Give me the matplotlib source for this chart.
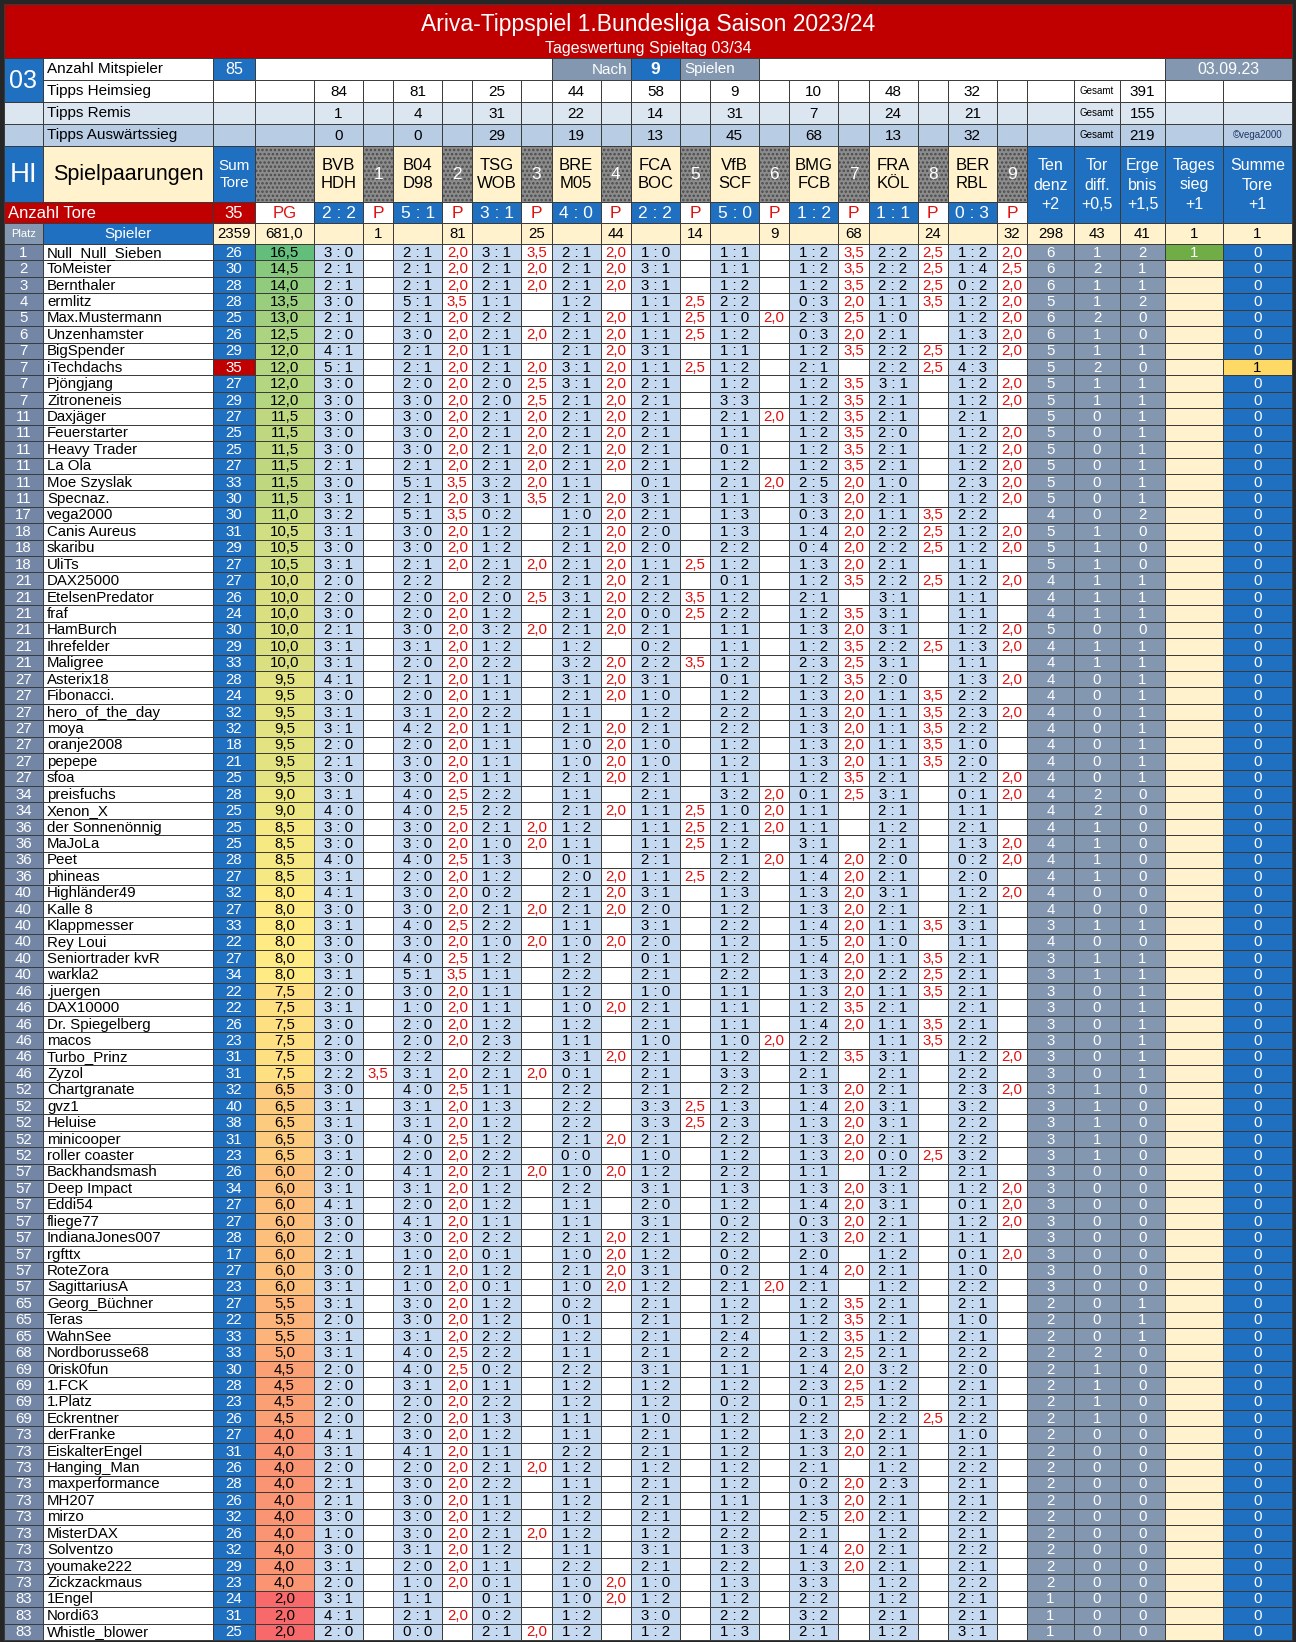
import numpy as np
import matplotlib.pyplot as plt
from matplotlib.patches import Rectangle
from matplotlib.colors import LinearSegmentedColormap, TwoSlopeNorm

plt.rcParams['font.family'] = ['Liberation Sans', 'DejaVu Sans']
plt.rcParams['hatch.linewidth'] = 1.2

# ---- data -------------------------------------------------------------
teams = [("BVB", "HDH"), ("B04", "D98"), ("TSG", "WOB"), ("BRE", "M05"), ("FCA", "BOC"),
         ("VfB", "SCF"), ("BMG", "FCB"), ("FRA", "KÖL"), ("BER", "RBL")]
results = ["2:2", "5:1", "3:1", "4:0", "2:2", "5:0", "1:2", "1:1", "0:3"]
tipps_heim = [84, 81, 25, 44, 58, 9, 10, 48, 32]
tipps_remis = [1, 4, 31, 22, 14, 31, 7, 24, 21]
tipps_ausw = [0, 0, 29, 19, 13, 45, 68, 13, 32]
gesamt = [391, 155, 219]
treffer = [1, 81, 25, 44, 14, 9, 68, 24, 32]
summen = ["2359", "681,0", "298", "43", "41", "1", "1"]

platz = [1, 2, 3, 4, 5, 6, 7, 7, 7, 7, 11, 11, 11, 11, 11, 11, 17, 18, 18, 18,
         21, 21, 21, 21, 21, 21, 27, 27, 27, 27, 27, 27, 27, 34, 34, 36, 36, 36, 36,
         40, 40, 40, 40, 40, 40, 46, 46, 46, 46, 46, 46, 52, 52, 52, 52, 52,
         57, 57, 57, 57, 57, 57, 57, 57, 65, 65, 65, 68, 69, 69, 69, 69,
         73, 73, 73, 73, 73, 73, 73, 73, 73, 73, 83, 83, 83]
spieler = ["Null_Null_Sieben", "ToMeister", "Bernthaler", "ermlitz", "Max.Mustermann",
           "Unzenhamster", "BigSpender", "iTechdachs", "Pjöngjang", "Zitroneneis",
           "Daxjäger", "Feuerstarter", "Heavy Trader", "La Ola", "Moe Szyslak", "Specnaz.",
           "vega2000", "Canis Aureus", "skaribu", "UliTs", "DAX25000", "EtelsenPredator",
           "fraf", "HamBurch", "Ihrefelder", "Maligree", "Asterix18", "Fibonacci.",
           "hero_of_the_day", "moya", "oranje2008", "pepepe", "sfoa", "preisfuchs",
           "Xenon_X", "der Sonnenönnig", "MaJoLa", "Peet", "phineas", "Highländer49",
           "Kalle 8", "Klappmesser", "Rey Loui", "Seniortrader kvR", "warkla2", ".juergen",
           "DAX10000", "Dr. Spiegelberg", "macos", "Turbo_Prinz", "Zyzol", "Chartgranate",
           "gvz1", "Heluise", "minicooper", "roller coaster", "Backhandsmash", "Deep Impact",
           "Eddi54", "fliege77", "IndianaJones007", "rgfttx", "RoteZora", "SagittariusA",
           "Georg_Büchner", "Teras", "WahnSee", "Nordborusse68", "0risk0fun", "1.FCK",
           "1.Platz", "Eckrentner", "derFranke", "EiskalterEngel", "Hanging_Man",
           "maxperformance", "MH207", "mirzo", "MisterDAX", "Solventzo", "youmake222",
           "Zickzackmaus", "1Engel", "Nordi63", "Whistle_blower"]
tore = [26, 30, 28, 28, 25, 26, 29, 35, 27, 29, 27, 25, 25, 27, 33, 30, 30, 31, 29, 27,
        27, 26, 24, 30, 29, 33, 28, 24, 32, 32, 18, 21, 25, 28, 25, 25, 25, 28, 27,
        32, 27, 33, 22, 27, 34, 22, 22, 26, 23, 31, 31, 32, 40, 38, 31, 23,
        26, 34, 27, 27, 28, 17, 27, 23, 27, 22, 33, 33, 30, 28, 23, 26,
        27, 31, 26, 28, 26, 32, 26, 32, 29, 23, 24, 31, 25]
pg = [16.5, 14.5, 14.0, 13.5, 13.0, 12.5, 12.0, 12.0, 12.0, 12.0,
      11.5, 11.5, 11.5, 11.5, 11.5, 11.5, 11.0, 10.5, 10.5, 10.5,
      10.0, 10.0, 10.0, 10.0, 10.0, 10.0, 9.5, 9.5, 9.5, 9.5, 9.5, 9.5, 9.5,
      9.0, 9.0, 8.5, 8.5, 8.5, 8.5, 8.0, 8.0, 8.0, 8.0, 8.0, 8.0,
      7.5, 7.5, 7.5, 7.5, 7.5, 7.5, 6.5, 6.5, 6.5, 6.5, 6.5,
      6.0, 6.0, 6.0, 6.0, 6.0, 6.0, 6.0, 6.0, 5.5, 5.5, 5.5, 5.0, 4.5, 4.5, 4.5, 4.5,
      4.0, 4.0, 4.0, 4.0, 4.0, 4.0, 4.0, 4.0, 4.0, 4.0, 2.0, 2.0, 2.0]
tipps = ["30 21 31 21 10 11 12 22 12", "21 21 21 21 31 11 12 22 14", "21 21 21 21 31 12 12 22 02",
         "30 51 11 12 11 22 03 11 12", "21 21 22 21 11 10 23 10 12", "20 30 21 21 11 12 03 21 13",
         "41 21 11 21 31 11 12 22 12", "51 21 21 31 11 12 21 22 43", "30 20 20 31 21 12 12 31 12",
         "30 30 20 21 21 33 12 21 12", "30 30 21 21 21 21 12 21 21", "30 30 21 21 21 11 12 20 12",
         "30 30 21 21 21 01 12 21 12", "21 21 21 21 21 12 12 21 12", "30 51 32 11 01 21 25 10 23",
         "31 21 31 21 31 11 13 21 12", "32 51 02 10 21 13 03 11 22", "31 30 12 21 20 13 14 22 12",
         "30 30 12 21 20 22 04 22 12", "31 21 21 21 11 12 13 21 11", "20 22 22 21 21 01 12 22 12",
         "20 20 20 31 22 12 21 31 11", "30 20 12 21 00 22 12 31 11", "21 30 32 21 21 11 13 31 12",
         "31 31 12 12 02 11 12 22 13", "31 20 22 32 22 12 23 31 11", "41 21 11 31 31 01 12 20 13",
         "30 20 11 21 10 12 13 11 22", "31 31 22 11 12 22 13 11 23", "31 42 11 21 21 22 13 11 22",
         "20 20 11 10 10 12 13 11 10", "21 30 11 10 10 12 13 11 20", "30 30 11 21 21 11 12 21 12",
         "31 40 22 11 21 32 01 31 01", "40 40 22 21 11 10 11 21 11", "30 30 21 12 11 21 11 12 21",
         "30 30 10 11 11 12 31 21 13", "40 40 13 01 21 21 14 20 02", "31 20 12 20 11 22 14 21 20",
         "41 30 02 21 31 13 13 31 12", "30 30 21 21 20 12 13 21 21", "31 40 22 11 31 22 14 11 31",
         "30 30 10 10 20 12 15 10 11", "30 40 12 12 01 12 14 11 21", "31 51 11 22 21 22 13 22 21",
         "20 30 11 12 10 11 13 11 21", "31 10 11 10 21 11 12 21 21", "30 20 12 12 21 11 14 11 21",
         "20 20 23 11 10 10 22 11 22", "30 22 22 31 21 12 12 31 12", "22 31 21 01 21 33 21 21 22",
         "30 40 11 22 21 22 13 21 23", "31 31 13 22 33 13 14 31 32", "31 31 12 22 33 23 13 31 22",
         "30 40 12 21 21 22 13 21 22", "31 20 22 00 10 12 13 00 32", "20 41 21 10 12 22 11 12 21",
         "31 31 12 22 31 13 13 31 12", "41 20 12 11 20 12 14 31 01", "30 41 11 11 31 02 03 21 12",
         "20 30 22 21 21 22 13 21 11", "21 10 01 10 12 02 20 12 01", "30 21 12 21 31 02 14 21 10",
         "31 10 01 10 12 21 21 12 22", "31 30 12 02 21 12 12 21 21", "20 30 12 01 21 12 12 21 10",
         "31 31 22 12 21 24 12 12 21", "31 40 22 11 21 22 23 21 22", "20 40 02 22 31 11 14 32 20",
         "20 31 11 12 12 12 23 12 21", "20 20 22 12 12 02 01 12 21", "20 20 13 11 10 12 22 22 22",
         "41 30 12 11 21 12 13 21 10", "31 41 11 22 21 12 13 21 21", "20 20 21 12 12 12 21 12 22",
         "21 30 22 11 21 12 02 23 21", "21 30 11 12 21 11 13 21 21", "30 30 12 12 21 12 25 21 22",
         "10 30 21 12 12 22 21 12 21", "30 31 12 11 31 13 14 21 22", "31 20 11 22 21 22 13 21 21",
         "20 10 01 10 10 13 33 12 22", "31 11 01 10 12 12 22 12 21", "41 21 02 12 30 22 32 21 21",
         "20 00 21 12 12 13 21 12 31"]
punkte = ["0 2 3.5 2 0 0 3.5 2.5 2", "0 2 2 2 0 0 3.5 2.5 2.5", "0 2 2 2 0 0 3.5 2.5 2",
          "0 3.5 0 0 2.5 0 2 3.5 2", "0 2 0 2 2.5 2 2.5 0 2", "0 2 2 2 2.5 0 2 0 2",
          "0 2 0 2 0 0 3.5 2.5 2", "0 2 2 2 2.5 0 0 2.5 0", "0 2 2.5 2 0 0 3.5 0 2",
          "0 2 2.5 2 0 0 3.5 0 2", "0 2 2 2 0 2 3.5 0 0", "0 2 2 2 0 0 3.5 0 2",
          "0 2 2 2 0 0 3.5 0 2", "0 2 2 2 0 0 3.5 0 2", "0 3.5 2 0 0 2 2 0 2",
          "0 2 3.5 2 0 0 2 0 2", "0 3.5 0 2 0 0 2 3.5 0", "0 2 0 2 0 0 2 2.5 2",
          "0 2 0 2 0 0 2 2.5 2", "0 2 2 2 2.5 0 2 0 0", "0 0 0 2 0 0 3.5 2.5 2",
          "0 2 2.5 2 3.5 0 0 0 0", "0 2 0 2 2.5 0 3.5 0 0", "0 2 2 2 0 0 2 0 2",
          "0 2 0 0 0 0 3.5 2.5 2", "0 2 0 2 3.5 0 2.5 0 0", "0 2 0 2 0 0 3.5 0 2",
          "0 2 0 2 0 0 2 3.5 0", "0 2 0 0 0 0 2 3.5 2", "0 2 0 2 0 0 2 3.5 0",
          "0 2 0 2 0 0 2 3.5 0", "0 2 0 2 0 0 2 3.5 0", "0 2 0 2 0 0 3.5 0 2",
          "0 2.5 0 0 0 2 2.5 0 2", "0 2.5 0 2 2.5 2 0 0 0", "0 2 2 0 2.5 2 0 0 0",
          "0 2 2 0 2.5 0 0 0 2", "0 2.5 0 0 0 2 2 0 2", "0 2 0 2 2.5 0 2 0 0",
          "0 2 0 2 0 0 2 0 2", "0 2 2 2 0 0 2 0 0", "0 2.5 0 0 0 0 2 3.5 0",
          "0 2 2 2 0 0 2 0 0", "0 2.5 0 0 0 0 2 3.5 0", "0 3.5 0 0 0 0 2 2.5 0",
          "0 2 0 0 0 0 2 3.5 0", "0 2 0 2 0 0 3.5 0 0", "0 2 0 0 0 0 2 3.5 0",
          "0 2 0 0 0 2 0 3.5 0", "0 0 0 2 0 0 3.5 0 2", "3.5 2 2 0 0 0 0 0 0",
          "0 2.5 0 0 0 0 2 0 2", "0 2 0 0 2.5 0 2 0 0", "0 2 0 0 2.5 0 2 0 0",
          "0 2.5 0 2 0 0 2 0 0", "0 2 0 0 0 0 2 2.5 0", "0 2 2 2 0 0 0 0 0",
          "0 2 0 0 0 0 2 0 2", "0 2 0 0 0 0 2 0 2", "0 2 0 0 0 0 2 0 2",
          "0 2 0 2 0 0 2 0 0", "0 2 0 2 0 0 0 0 2", "0 2 0 2 0 0 2 0 0",
          "0 2 0 2 0 2 0 0 0", "0 2 0 0 0 0 3.5 0 0", "0 2 0 0 0 0 3.5 0 0",
          "0 2 0 0 0 0 3.5 0 0", "0 2.5 0 0 0 0 2.5 0 0", "0 2.5 0 0 0 0 2 0 0",
          "0 2 0 0 0 0 2.5 0 0", "0 2 0 0 0 0 2.5 0 0", "0 2 0 0 0 0 0 2.5 0",
          "0 2 0 0 0 0 2 0 0", "0 2 0 0 0 0 2 0 0", "0 2 2 0 0 0 0 0 0",
          "0 2 0 0 0 0 2 0 0", "0 2 0 0 0 0 2 0 0", "0 2 0 0 0 0 2 0 0",
          "0 2 2 0 0 0 0 0 0", "0 2 0 0 0 0 2 0 0", "0 2 0 0 0 0 2 0 0",
          "0 2 0 2 0 0 0 0 0", "0 0 0 2 0 0 0 0 0", "0 2 0 0 0 0 0 0 0",
          "0 0 2 0 0 0 0 0 0"]
tendenz = [6, 6, 6, 5, 6, 6, 5, 5, 5, 5, 5, 5, 5, 5, 5, 5, 4, 5, 5, 5,
           4, 4, 4, 5, 4, 4, 4, 4, 4, 4, 4, 4, 4, 4, 4, 4, 4, 4, 4,
           4, 4, 3, 4, 3, 3, 3, 3, 3, 3, 3, 3, 3, 3, 3, 3, 3,
           3, 3, 3, 3, 3, 3, 3, 3, 2, 2, 2, 2, 2, 2, 2, 2,
           2, 2, 2, 2, 2, 2, 2, 2, 2, 2, 1, 1, 1]
tordiff = [1, 2, 1, 1, 2, 1, 1, 2, 1, 1, 0, 0, 0, 0, 0, 0, 0, 1, 1, 1,
           1, 1, 1, 0, 1, 1, 0, 0, 0, 0, 0, 0, 0, 2, 2, 1, 1, 1, 1,
           0, 0, 1, 0, 1, 1, 0, 0, 0, 0, 0, 0, 1, 1, 1, 1, 1,
           0, 0, 0, 0, 0, 0, 0, 0, 0, 0, 0, 2, 1, 1, 1, 1,
           0, 0, 0, 0, 0, 0, 0, 0, 0, 0, 0, 0, 0]
ergebnis = [2, 1, 1, 2, 0, 0, 1, 0, 1, 1, 1, 1, 1, 1, 1, 1, 2, 0, 0, 0,
            1, 1, 1, 0, 1, 1, 1, 1, 1, 1, 1, 1, 1, 0, 0, 0, 0, 0, 0,
            0, 0, 1, 0, 1, 1, 1, 1, 1, 1, 1, 1, 0, 0, 0, 0, 0,
            0, 0, 0, 0, 0, 0, 0, 0, 1, 1, 1, 0, 0, 0, 0, 0,
            0, 0, 0, 0, 0, 0, 0, 0, 0, 0, 0, 0, 0]
tagessieg = ["1"] + [""] * 84
summe_tore = [0, 0, 0, 0, 0, 0, 0, 1] + [0] * 77

# ---- styles -----------------------------------------------------------
RED = '#C00000'
BLUE = '#1F70C1'
SLATE = '#8497B0'
PLATZ_BG = '#7386A6'
TIP_BG = '#C5D9F1'
CREAM = '#FFF2CC'
LINE = '#3a3a3a'
PRED = '#E01010'
FS = 10.8  # body font size

fig = plt.figure(figsize=(12.96, 16.42), dpi=100, facecolor='#262626')
ax = fig.add_axes([0, 0, 1, 1])
ax.set_xlim(0, 1296)
ax.set_ylim(1642, 0)
ax.axis('off')


def cell(x0, x1, y0, y1, bg, txt='', col='black', size=FS, ha='center', hatch=False, **kw):
    if hatch:
        ax.add_patch(Rectangle((x0, y0), x1 - x0, y1 - y0, facecolor=bg,
                               edgecolor='#4a4a4a', lw=0, hatch='....'))
        ax.add_patch(Rectangle((x0, y0), x1 - x0, y1 - y0, facecolor='none',
                               edgecolor=LINE, lw=0.7))
    else:
        ax.add_patch(Rectangle((x0, y0), x1 - x0, y1 - y0, facecolor=bg,
                               edgecolor=LINE, lw=0.7))
    if txt != '':
        x = {'left': x0 + 4, 'right': x1 - 4, 'center': (x0 + x1) / 2}[ha]
        ax.text(x, (y0 + y1) / 2 + 0.5, txt, color=col, fontsize=size, ha=ha,
                va='center', **kw)


def de(v):
    return f"{v:.1f}".replace('.', ',')


# column layout
XP = (4, 43)
XN = (43, 213)
XS = (213, 255)
XG = (255, 314)
GW = (1027 - 314) / 9
TW = 49
game_x = [314 + i * GW for i in range(9)]
XR = [(1027, 1074), (1074, 1120), (1120, 1165), (1165, 1223), (1223, 1292)]

# title
ax.add_patch(Rectangle((4, 4), 1288, 54, facecolor=RED, edgecolor=LINE, lw=0.7))
ax.text(648, 24, "Ariva-Tippspiel 1.Bundesliga Saison 2023/24", color='white',
        fontsize=16.5, ha='center', va='center')
ax.text(648, 48, "Tageswertung Spieltag 03/34", color='white', fontsize=11.5,
        ha='center', va='center')

# info rows
y0, y1 = 58, 80
cell(*XN, y0, y1, 'white', "Anzahl Mitspieler", ha='left', size=11)
cell(*XS, y0, y1, BLUE, str(len(spieler)), col='white', size=11.5)
cell(XG[0], game_x[3], y0, y1, 'white')
cell(game_x[3], game_x[4], y0, y1, SLATE, "Nach", col='white', ha='right', size=11)
cell(game_x[4], game_x[4] + TW, y0, y1, BLUE, "9", col='white', size=12.5, weight='bold')
cell(game_x[4] + TW, game_x[5] + TW, y0, y1, SLATE, "Spielen", col='white', ha='left', size=11)
cell(game_x[5] + TW, XR[3][0], y0, y1, 'white')
cell(XR[3][0], XR[4][1], y0, y1, SLATE, "03.09.23", col='white', size=11.5)

info = [("Tipps Heimsieg", tipps_heim, 'white'),
        ("Tipps Remis", tipps_remis, '#DCE6F1'),
        ("Tipps Auswärtssieg", tipps_ausw, '#B8CCE4')]
for k, (lab, vals, bg) in enumerate(info):
    y0, y1 = 80 + 22 * k, 102 + 22 * k
    if k > 0:
        cell(*XP, y0, y1, bg)
    cell(*XN, y0, y1, bg, lab, ha='left', size=11)
    cell(*XS, y0, y1, bg)
    cell(*XG, y0, y1, bg)
    for i in range(9):
        cell(game_x[i], game_x[i] + TW, y0, y1, bg, str(vals[i]), size=11)
        cell(game_x[i] + TW, game_x[i] + GW, y0, y1, bg)
    cell(*XR[0], y0, y1, bg)
    cell(*XR[1], y0, y1, bg, "Gesamt", size=7)
    cell(*XR[2], y0, y1, bg, str(gesamt[k]), size=11)
    cell(*XR[3], y0, y1, bg)
    cell(*XR[4], y0, y1, bg, "©vega2000" if k == 2 else '', col='#1F3864', size=7)
cell(*XP, 58, 102, BLUE, "03", col='white', size=18)

# header row
y0, y1 = 146, 202
cell(*XP, y0, y1, BLUE, "HI", col='white', size=20)
cell(*XN, y0, y1, CREAM, "Spielpaarungen", size=15.5)
cell(*XS, y0, y1, BLUE, "Sum\nTore", col='white', size=11, linespacing=1.3)
cell(*XG, y0, y1, '#8c8c8c', hatch=True)
for i in range(9):
    cell(game_x[i], game_x[i] + TW, y0, y1, CREAM, "\n".join(teams[i]), size=12,
         linespacing=1.3)
    cell(game_x[i] + TW, game_x[i] + GW, y0, y1, '#8c8c8c', str(i + 1), col='white',
         size=12.5, hatch=True)
right_heads = ["Ten\ndenz\n+2", "Tor\ndiff.\n+0,5", "Erge\nbnis\n+1,5", "Tages\nsieg\n+1",
               "Summe\nTore\n+1"]
for (a, b), h in zip(XR, right_heads):
    cell(a, b, 146, 223, BLUE, h, col='white', size=11.5, linespacing=1.4)

# goals row
y0, y1 = 202, 223
cell(XP[0], XN[1], y0, y1, RED, "Anzahl Tore", col='white', ha='left', size=12)
cell(*XS, y0, y1, RED, str(sum(int(r[0]) + int(r[2]) for r in results)), col='white', size=12)
cell(*XG, y0, y1, 'white', "PG", col=PRED, size=12)
for i in range(9):
    cell(game_x[i], game_x[i] + TW, y0, y1, BLUE, results[i].replace(":", " : "),
         col='white', size=12.5)
    cell(game_x[i] + TW, game_x[i] + GW, y0, y1, 'white', "P", col=PRED, size=12.5)

# counts row
y0, y1 = 223, 244
cell(*XP, y0, y1, SLATE, "Platz", col='white', size=8)
cell(*XN, y0, y1, BLUE, "Spieler", col='white', size=11)
cell(*XS, y0, y1, CREAM, summen[0])
cell(*XG, y0, y1, CREAM, summen[1])
for i in range(9):
    cell(game_x[i], game_x[i] + TW, y0, y1, CREAM)
    cell(game_x[i] + TW, game_x[i] + GW, y0, y1, CREAM, str(treffer[i]))
for (a, b), v in zip(XR, summen[2:]):
    cell(a, b, y0, y1, CREAM, v)

# player rows
cmap = LinearSegmentedColormap.from_list('pg', ['#F8696B', '#FFEB84', '#63BE7B'])
norm = TwoSlopeNorm(vcenter=np.median(pg), vmin=min(pg), vmax=max(pg))
RH = (1640 - 244) / len(spieler)
total_goals = sum(int(x[0]) + int(x[2]) for x in results)
for r in range(len(spieler)):
    y0 = 244 + r * RH
    y1 = y0 + RH
    cell(*XP, y0, y1, PLATZ_BG, str(platz[r]), col='white')
    cell(*XN, y0, y1, 'white', spieler[r], ha='left')
    cell(*XS, y0, y1, RED if tore[r] == total_goals else BLUE, str(tore[r]), col='white')
    cell(*XG, y0, y1, cmap(norm(pg[r])), de(pg[r]))
    tp = tipps[r].split()
    pt = [float(v) for v in punkte[r].split()]
    for i in range(9):
        cell(game_x[i], game_x[i] + TW, y0, y1, TIP_BG, f"{tp[i][0]} : {tp[i][1]}")
        cell(game_x[i] + TW, game_x[i] + GW, y0, y1, 'white',
             de(pt[i]) if pt[i] else '', col=PRED)
    cell(*XR[0], y0, y1, SLATE, str(tendenz[r]), col='white')
    cell(*XR[1], y0, y1, SLATE, str(tordiff[r]), col='white')
    cell(*XR[2], y0, y1, SLATE, str(ergebnis[r]), col='white')
    cell(*XR[3], y0, y1, '#70AD47' if tagessieg[r] else CREAM, tagessieg[r], col='white')
    if summe_tore[r]:
        cell(*XR[4], y0, y1, '#FFD966', str(summe_tore[r]))
    else:
        cell(*XR[4], y0, y1, BLUE, str(summe_tore[r]), col='white')

fig.savefig("out.png", dpi=100, facecolor=fig.get_facecolor())
